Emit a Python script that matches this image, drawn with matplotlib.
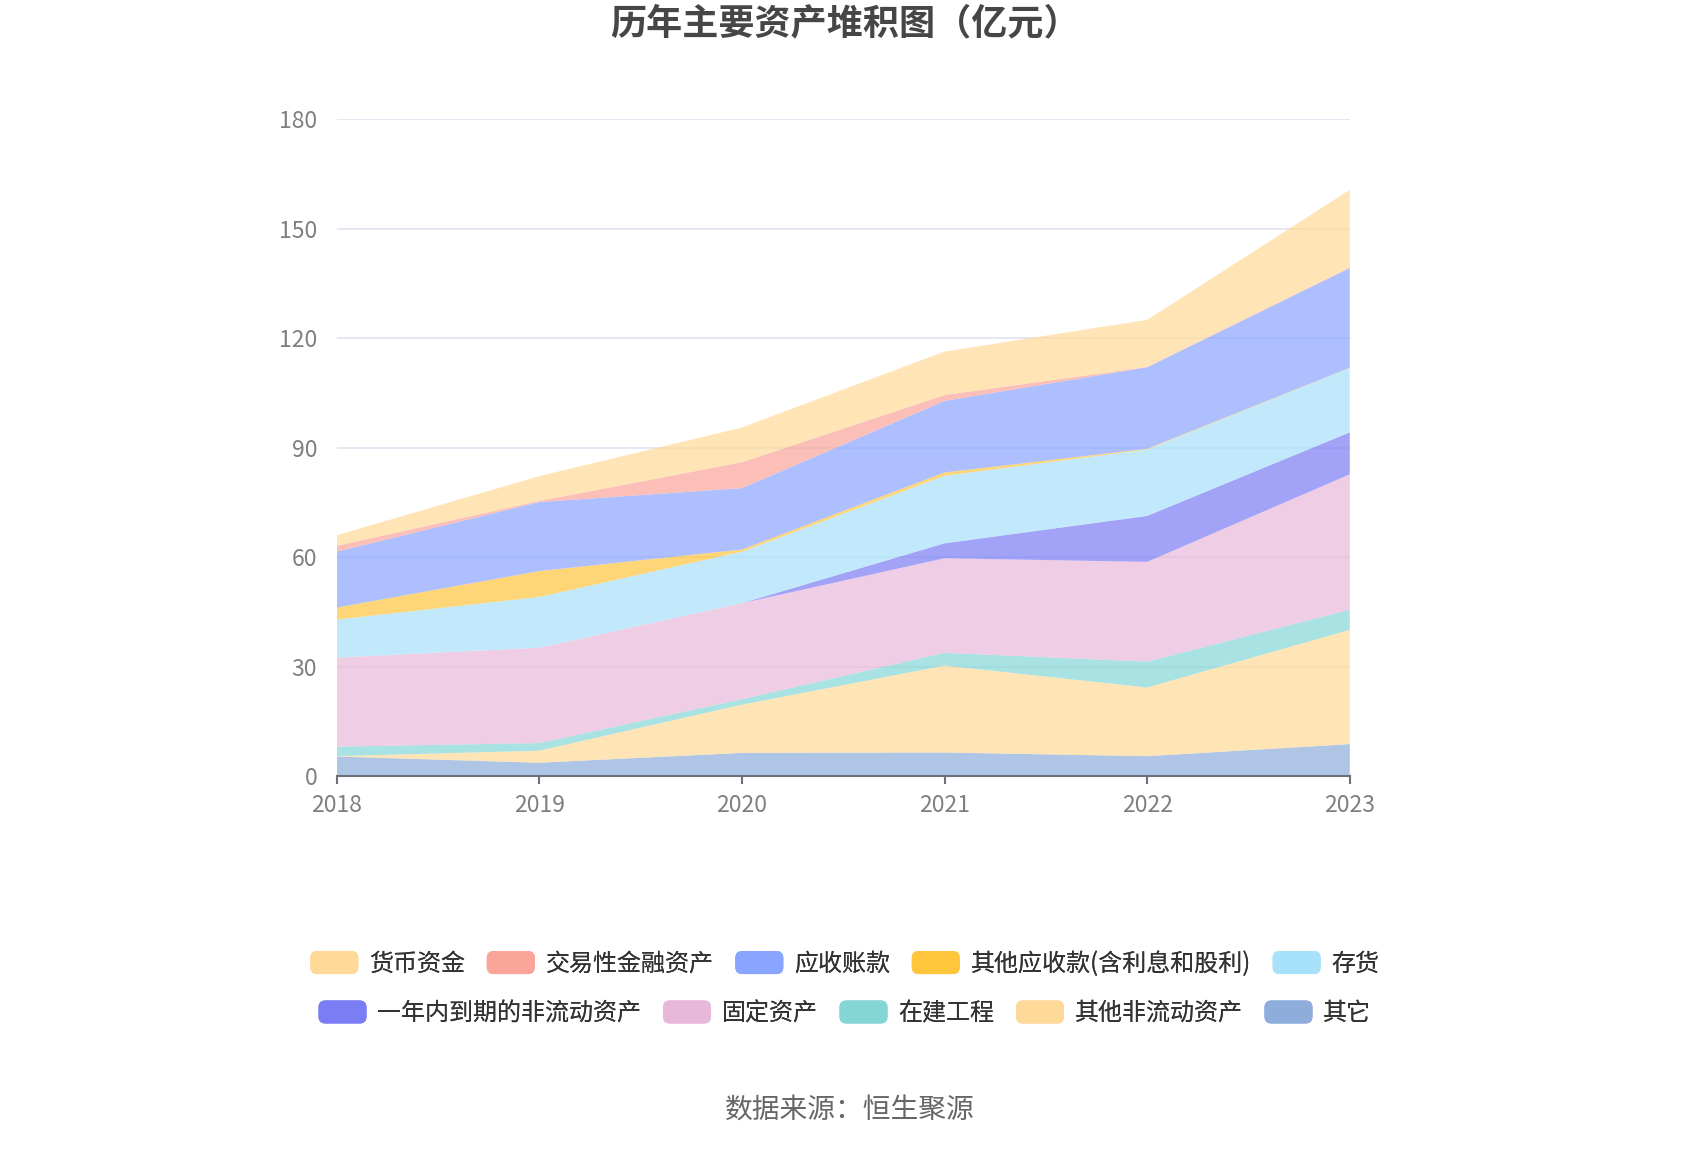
import matplotlib.pyplot as plt
from matplotlib.patches import FancyBboxPatch, Patch
from matplotlib.legend_handler import HandlerPatch

plt.rcParams['font.family'] = ['Noto Sans CJK SC', 'DejaVu Sans']

years = [2018, 2019, 2020, 2021, 2022, 2023]

# values in 亿元
huobi = [2.9, 6.8, 9.5, 11.9, 12.9, 21.3]        # 货币资金
jiaoyi = [1.6, 0.3, 7.1, 1.6, 0.1, 0.1]          # 交易性金融资产
yingshou = [15.3, 18.9, 16.8, 19.6, 22.3, 27.3]  # 应收账款
qita_ys = [3.3, 7.1, 0.6, 0.9, 0.2, 0.1]         # 其他应收款(含利息和股利)
cunhuo = [10.4, 13.9, 14.1, 18.5, 18.2, 17.6]    # 存货
yinian = [0.0, 0.0, 0.0, 4.1, 12.6, 11.5]        # 一年内到期的非流动资产
guding = [24.4, 26.1, 26.3, 25.9, 27.3, 37.1]    # 固定资产
zaijian = [2.6, 2.1, 1.5, 3.5, 7.1, 5.5]         # 在建工程
qita_fld = [0.1, 3.3, 13.2, 23.8, 18.8, 31.3]    # 其他非流动资产
qita = [5.4, 3.7, 6.4, 6.5, 5.5, 8.8]            # 其它

names = ['货币资金', '交易性金融资产', '应收账款', '其他应收款(含利息和股利)', '存货',
         '一年内到期的非流动资产', '固定资产', '在建工程', '其他非流动资产', '其它']
series = [huobi, jiaoyi, yingshou, qita_ys, cunhuo, yinian, guding, zaijian, qita_fld, qita]
colors = ['#FFD998', '#FBA59A', '#8AA5FF', '#FFC53D', '#A8E1FA',
          '#7B7DF5', '#E8B8DA', '#85D6D6', '#FFD998', '#8EADDB']

fig = plt.figure(figsize=(17, 11.5), dpi=100)
ax = fig.add_axes([0.198, 0.325, 0.596, 0.5715])

# bottom layer is the last series
ax.stackplot(years, series[::-1], colors=colors[::-1], alpha=0.7, linewidth=0, zorder=2)

ax.set_xlim(2018, 2023)
ax.set_ylim(0, 180)
ax.set_yticks(range(0, 181, 30))
ax.set_xticks(years)
ax.set_xticklabels([str(y) for y in years])
ax.grid(axis='y', color='#E0E6F1', linewidth=1.3, zorder=0)
ax.set_axisbelow(True)
for s in ['top', 'right', 'left']:
    ax.spines[s].set_visible(False)
ax.spines['bottom'].set_color('#6E7079')
ax.spines['bottom'].set_linewidth(1.5)
ax.spines['bottom'].set_zorder(3)
ax.tick_params(axis='y', length=0, labelsize=16.5, labelcolor='#7F7F7F', pad=14)
ax.tick_params(axis='x', length=6, width=1.5, color='#6E7079', labelsize=16.5,
               labelcolor='#7F7F7F', pad=7)

fig.text(0.497, 0.979, '历年主要资产堆积图（亿元）', ha='center', va='center',
         fontsize=26, fontweight='bold', color='#464646')


def rounded_box(legend, orig_handle, xdescent, ydescent, width, height, fontsize):
    return FancyBboxPatch((-xdescent, -ydescent), width, height,
                          boxstyle='round,pad=0,rounding_size=5')


handles = [Patch(facecolor=c, edgecolor='none') for c in colors]
for row, ypos in [(0, 0.162), (1, 0.119)]:
    leg = fig.legend(handles[row * 5:row * 5 + 5], names[row * 5:row * 5 + 5],
                     loc='center', bbox_to_anchor=(0.497, ypos), ncol=5, frameon=False,
                     fontsize=17.3, handlelength=2.0, handleheight=1.1,
                     handletextpad=0.45, columnspacing=0.9,
                     handler_map={Patch: HandlerPatch(patch_func=rounded_box)})
    for t in leg.get_texts():
        t.set_color('#333333')
    fig.add_artist(leg)

fig.text(0.5, 0.034, '数据来源：恒生聚源', ha='center', va='center', fontsize=20, color='#666666')

fig.savefig('out.png', dpi=100)
